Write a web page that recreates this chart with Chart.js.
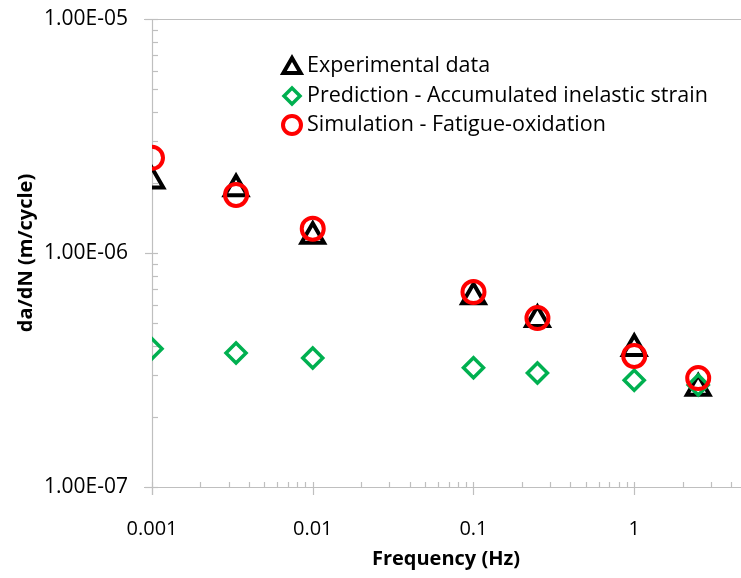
<!DOCTYPE html>
<html>
<head>
<meta charset="utf-8">
<script src="https://cdn.jsdelivr.net/npm/chart.js@4/dist/chart.umd.min.js"></script>
<style>
  html, body { margin: 0; padding: 0; background: #fff; overflow: hidden; }
  #wrap { position: relative; width: 741px; height: 578px; overflow: hidden; }
</style>
</head>
<body>
<div id="wrap"><canvas id="c" width="757" height="578"></canvas></div>
<script>
// ---- data ----
const frequencies = [0.001, 0.003333, 0.01, 0.1, 0.25, 1, 2.5];
const experimental = [2.03e-6, 1.88e-6, 1.18e-6, 6.5e-7, 5.2e-7, 3.91e-7, 2.64e-7];
const prediction   = [3.9e-7, 3.74e-7, 3.56e-7, 3.23e-7, 3.07e-7, 2.86e-7, 2.73e-7];
const simulation   = [2.55e-6, 1.77e-6, 1.27e-6, 6.81e-7, 5.27e-7, 3.63e-7, 2.92e-7];
const seriesNames = ['Experimental data', 'Prediction - Accumulated inelastic strain', 'Simulation - Fatigue-oxidation'];
const xTickValues = [0.001, 0.01, 0.1, 1];
const xTickLabels = ['0.001', '0.01', '0.1', '1'];
const yTickValues = [1e-7, 1e-6, 1e-5];
const yTickLabels = ['1.00E-07', '1.00E-06', '1.00E-05'];
const xTitle = 'Frequency (Hz)';
const yTitle = 'da/dN (m/cycle)';

const FONT = '"Open Sans", Lato, sans-serif';
const AXIS = '#bfbfbf';
const CLEAR = 'rgba(0,0,0,0)';

function pts(ys) { return frequencies.map((f, i) => ({ x: f, y: ys[i] })); }

const styles = [
  { pointStyle: 'triangle', radius: 13, borderColor: '#000000', borderWidth: 4, order: 3 },
  { pointStyle: 'rectRot',  radius: 10, borderColor: '#00b050', borderWidth: 3.5, order: 2 },
  { pointStyle: 'circle',   radius: 11, borderColor: '#ff0000', borderWidth: 4, order: 1 }
];
const allSeries = [experimental, prediction, simulation];

const datasets = allSeries.map((s, i) => ({
  label: seriesNames[i],
  data: pts(s),
  showLine: false,
  pointStyle: styles[i].pointStyle,
  pointRadius: styles[i].radius,
  pointHoverRadius: styles[i].radius,
  pointBorderColor: styles[i].borderColor,
  pointBackgroundColor: CLEAR,
  pointBorderWidth: styles[i].borderWidth,
  order: styles[i].order
}));

const decorPlugin = {
  id: 'decor',
  beforeDatasetsDraw(chart) {
    const ctx = chart.ctx, xs = chart.scales.x, ys = chart.scales.y, ca = chart.chartArea;
    ctx.save();
    ctx.strokeStyle = AXIS;
    ctx.lineWidth = 1.2;
    ctx.beginPath(); ctx.moveTo(ca.left + 0.5, ca.top); ctx.lineTo(ca.left + 0.5, ca.bottom + 8); ctx.stroke();
    ctx.beginPath(); ctx.moveTo(ca.left - 8, ca.top + 0.5); ctx.lineTo(chart.width, ca.top + 0.5); ctx.stroke();
    ctx.beginPath(); ctx.moveTo(ca.left - 8, ca.bottom + 0.5); ctx.lineTo(chart.width, ca.bottom + 0.5); ctx.stroke();
    for (let e = -7; e <= -5; e++) {
      for (let m = 1; m <= 9; m++) {
        const v = m * Math.pow(10, e);
        if (v > 1.0001e-5) break;
        const py = Math.round(ys.getPixelForValue(v)) + 0.5;
        ctx.beginPath();
        if (m === 1) { ctx.moveTo(ca.left - 7, py); ctx.lineTo(ca.left + 6, py); }
        else { ctx.moveTo(ca.left, py); ctx.lineTo(ca.left + 6, py); }
        ctx.stroke();
      }
    }
    for (let e = -3; e <= 0; e++) {
      for (let m = 1; m <= 9; m++) {
        const v = m * Math.pow(10, e);
        if (v > xs.max) break;
        const px = Math.round(xs.getPixelForValue(v)) + 0.5;
        ctx.beginPath();
        if (m === 1) { ctx.moveTo(px, ca.bottom - 5); ctx.lineTo(px, ca.bottom + 8); }
        else { ctx.moveTo(px, ca.bottom - 5); ctx.lineTo(px, ca.bottom); }
        ctx.stroke();
      }
    }
    ctx.restore();
  },
  afterDraw(chart) {
    const ctx = chart.ctx;
    ctx.save();
    const markerX = 292, textX = 307, rowY = [66, 96, 125], legR = [10, 8, 9];
    ctx.font = '21.5px ' + FONT;
    ctx.textBaseline = 'middle';
    ctx.textAlign = 'left';
    seriesNames.forEach((name, i) => {
      const st = styles[i];
      ctx.strokeStyle = st.borderColor;
      ctx.lineWidth = st.borderWidth;
      ctx.fillStyle = CLEAR;
      Chart.helpers.drawPoint(ctx, { pointStyle: st.pointStyle, rotation: 0, radius: legR[i], borderWidth: st.borderWidth }, markerX, rowY[i] + (i === 0 ? 2 : 0));
      ctx.fillStyle = '#000';
      ctx.fillText(name, textX, rowY[i]);
    });
    ctx.restore();
  }
};

new Chart(document.getElementById('c'), {
  type: 'scatter',
  data: { datasets },
  plugins: [decorPlugin],
  options: {
    responsive: false,
    animation: false,
    events: [],
    layout: { padding: { top: 19, right: 0, bottom: 0, left: 0 } },
    plugins: { legend: { display: false }, tooltip: { enabled: false } },
    scales: {
      x: {
        type: 'logarithmic',
        min: 0.001,
        max: 4.55,
        afterFit(scale) { scale.height = 91; },
        afterBuildTicks(scale) { scale.ticks = xTickValues.map(v => ({ value: v })); },
        grid: { display: true, drawOnChartArea: false, drawTicks: true, tickLength: 30, color: CLEAR },
        border: { display: false },
        ticks: {
          padding: 0,
          color: '#000',
          font: { family: FONT, size: 20 },
          maxRotation: 0,
          callback: (v) => { const i = xTickValues.findIndex(t => Math.abs(t - v) / t < 1e-6); return i >= 0 ? xTickLabels[i] : ''; }
        },
        title: { display: true, text: xTitle, color: '#000', font: { family: FONT, size: 20, weight: 'bold' }, padding: { top: 0, bottom: 7 } }
      },
      y: {
        type: 'logarithmic',
        min: 1e-7,
        max: 1e-5,
        afterFit(scale) { scale.width = 152; },
        afterBuildTicks(scale) { scale.ticks = yTickValues.map(v => ({ value: v })); },
        grid: { display: true, drawOnChartArea: false, drawTicks: true, tickLength: 24, color: CLEAR },
        border: { display: false },
        ticks: {
          padding: 0,
          color: '#000',
          font: { family: FONT, size: 21 },
          callback: (v) => { const i = yTickValues.findIndex(t => Math.abs(t - v) / t < 1e-6); return i >= 0 ? yTickLabels[i] : ''; }
        },
        title: { display: true, text: yTitle, color: '#000', font: { family: FONT, size: 20, weight: 'bold' }, padding: { top: 14, bottom: 0 } }
      }
    }
  }
});
</script>
</body>
</html>
